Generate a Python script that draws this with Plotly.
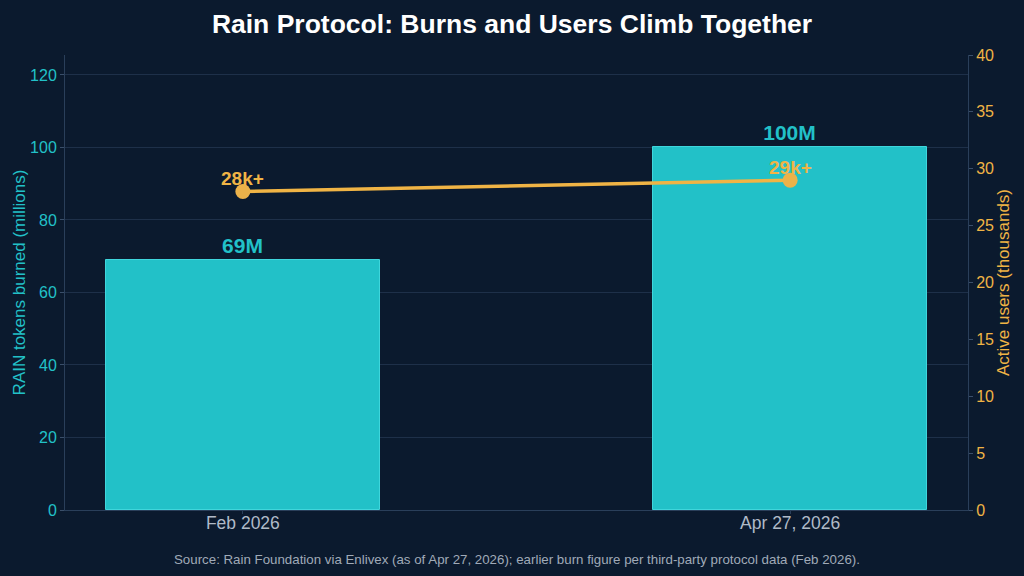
import plotly.graph_objects as go

categories = ["Feb 2026", "Apr 27, 2026"]
burned_millions = [69, 100]
burn_labels = ["69M", "100M"]
users_thousands = [28, 29]
user_labels = ["28k+", "29k+"]

BG = "#0B1A2E"
CYAN = "#22C1C8"
ORANGE = "#F0B445"
GRID = "#1E3049"
FONT = "Liberation Sans, Arial, sans-serif"

xpos = list(range(len(categories)))

fig = go.Figure()
fig.add_trace(go.Bar(
    x=xpos, y=burned_millions, width=0.5,
    marker=dict(color=CYAN, line=dict(color="#3FD6DC", width=1)),
    text=burn_labels, textposition="outside", cliponaxis=False,
    textfont=dict(color=CYAN, size=21, family=FONT, weight="bold"),
    yaxis="y", showlegend=False, hoverinfo="skip",
))
fig.add_trace(go.Scatter(
    x=xpos, y=users_thousands, yaxis="y2",
    mode="lines+markers",
    line=dict(color=ORANGE, width=3.5),
    marker=dict(size=15, color="#EBB24A"),
    showlegend=False, cliponaxis=False,
))

annotations = [dict(
    x=xv, y=yv, xref="x", yref="y2", text=f"<b>{lab}</b>",
    showarrow=False, yshift=13, xanchor="center", yanchor="middle",
    font=dict(size=19, color=ORANGE, family=FONT),
) for xv, yv, lab in zip(xpos, users_thousands, user_labels)]

annotations.append(dict(
    text="Source: Rain Foundation via Enlivex (as of Apr 27, 2026); earlier burn figure per third-party protocol data (Feb 2026).",
    xref="paper", yref="paper", x=0.5, y=-0.108, xanchor="center", yanchor="middle",
    showarrow=False, font=dict(size=13.3, color="#A0AAB8", family=FONT),
))

fig.update_layout(
    width=1024, height=576,
    paper_bgcolor=BG, plot_bgcolor=BG,
    margin=dict(l=65, r=56, t=55, b=66),
    font=dict(family=FONT, color="#B0BAC8"),
    title=dict(text="<b>Rain Protocol: Burns and Users Climb Together</b>",
               x=0.5, xanchor="center", y=0.958, yanchor="middle",
               font=dict(size=26.5, color="white", family=FONT)),
    bargap=0,
    xaxis=dict(
        range=[-0.325, 1.325], tickvals=xpos, ticktext=categories,
        tickfont=dict(size=17.5, color="#B0BAC8"),
        showgrid=False, zeroline=False,
        showline=True, linecolor="#2A3F5A", linewidth=1,
        ticks="outside", ticklen=3, tickcolor="#2A3F5A",
        ticklabelstandoff=-6,
    ),
    yaxis=dict(
        range=[0, 125.5], tickvals=[0, 20, 40, 60, 80, 100, 120],
        tickfont=dict(size=16, color=CYAN),
        title=dict(text="RAIN tokens burned (millions)", font=dict(size=17, color=CYAN), standoff=0),
        showgrid=True, gridcolor=GRID, gridwidth=1, zeroline=False,
        showline=True, linecolor="#2A3F5A", linewidth=1,
        ticks="outside", ticklen=4, tickcolor="#3A4F6A",
    ),
    yaxis2=dict(
        overlaying="y", side="right",
        range=[0, 40], tickvals=[0, 5, 10, 15, 20, 25, 30, 35, 40],
        tickfont=dict(size=16, color=ORANGE),
        title=dict(text="Active users (thousands)", font=dict(size=17, color=ORANGE), standoff=1),
        showgrid=False, zeroline=False,
        showline=True, linecolor="#2A3F5A", linewidth=1,
        ticks="outside", ticklen=4, tickcolor="#3A4F6A",
    ),
    annotations=annotations,
)

fig.write_html("out.html")
